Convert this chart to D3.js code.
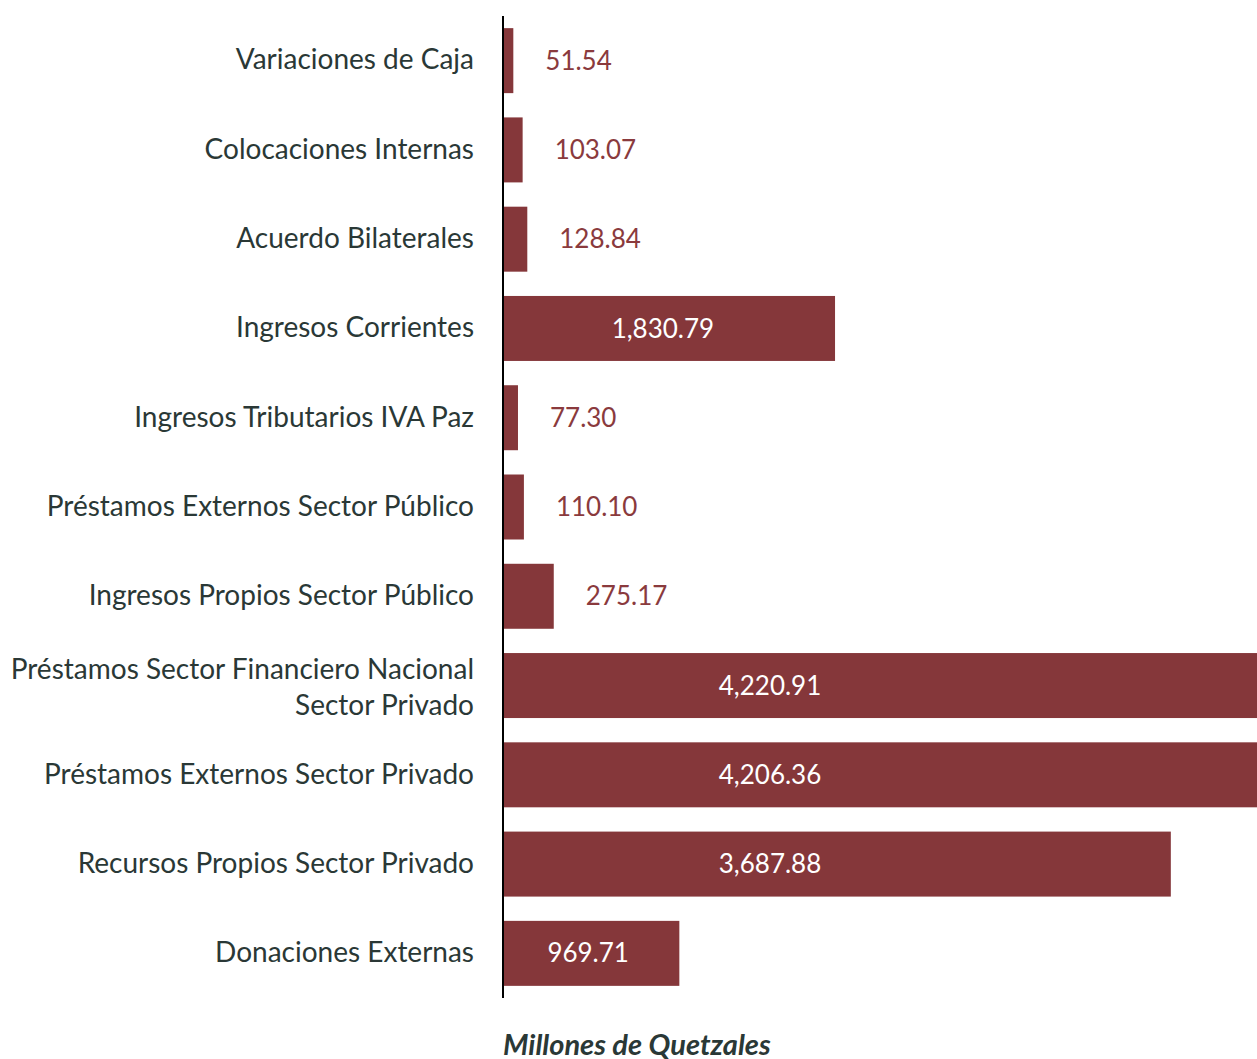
<!DOCTYPE html>
<html><head><meta charset="utf-8">
<script src="https://cdn.jsdelivr.net/npm/d3@7"></script>
<style>html,body{margin:0;padding:0;background:#fff;overflow:hidden}</style>
</head><body>
<svg id="c" width="1257" height="1059"></svg>
<script>
const categories = [
  "Variaciones de Caja",
  "Colocaciones Internas",
  "Acuerdo Bilaterales",
  "Ingresos Corrientes",
  "Ingresos Tributarios IVA Paz",
  "Préstamos Externos Sector Público",
  "Ingresos Propios Sector Público",
  "Préstamos Sector Financiero Nacional|Sector Privado",
  "Préstamos Externos Sector Privado",
  "Recursos Propios Sector Privado",
  "Donaciones Externas"
];
const values = [51.54, 103.07, 128.84, 1830.79, 77.30, 110.10, 275.17, 4220.91, 4206.36, 3687.88, 969.71];
const axisTitle = "Millones de Quetzales";

const FONT = "Lato, 'Source Sans Pro', sans-serif";
const BAR = "#85373a", TXT = "#2a3836";
const svg = d3.select("#c");
const x0 = 504;
const x = d3.scaleLinear().domain([0, 4170]).range([x0, 1258]);
const y = d3.scaleBand().domain(categories).range([16, 998]).paddingInner(0.272).paddingOuter(0.136);

svg.selectAll("rect.bar").data(values).join("rect")
  .attr("class","bar")
  .attr("x", x0)
  .attr("y", (d,i)=>y(categories[i]))
  .attr("width", d=>x(d)-x0)
  .attr("height", y.bandwidth())
  .attr("fill", BAR);

// axis line
svg.append("line").attr("x1",503).attr("x2",503).attr("y1",16).attr("y2",998)
  .attr("stroke","#000").attr("stroke-width",2);

// category labels
const lab = svg.selectAll("text.cat").data(categories).join("text")
  .attr("class","cat")
  .attr("x", 474)
  .attr("text-anchor","end")
  .attr("font-family", FONT).attr("font-size", 28).attr("fill", TXT);
lab.each(function(d){
  const lines = d.split("|");
  const cy = y(d) + y.bandwidth()/2;
  const lh = 36;
  const t = d3.select(this);
  lines.forEach((l,k)=>{
    t.append("tspan").attr("x",474)
     .attr("y", cy + (k - (lines.length-1)/2)*lh + (lines.length>1?2:-1))
     .attr("dy","0.35em").text(l);
  });
});

// value labels
const fmt = d3.format(",.2f");
svg.selectAll("text.val").data(values).join("text")
  .attr("class","val")
  .attr("font-family", FONT).attr("font-size", 26)
  .attr("y", (d,i)=>y(categories[i]) + y.bandwidth()/2)
  .attr("dy","0.35em")
  .attr("x", d=> d>500 ? x0 + Math.min((x(d)-x0)*0.48, 266) : x(d) + 32)
  .attr("text-anchor", d=> d>500 ? "middle" : "start")
  .attr("fill", d=> d>500 ? "#fff" : "#8a3a3d")
  .text(d=>fmt(d));

svg.append("text").attr("x",503).attr("y",1055)
  .attr("font-family", FONT).attr("font-size", 29).attr("font-weight","bold").attr("font-style","italic")
  .attr("fill", TXT).text(axisTitle);
</script>
</body></html>
